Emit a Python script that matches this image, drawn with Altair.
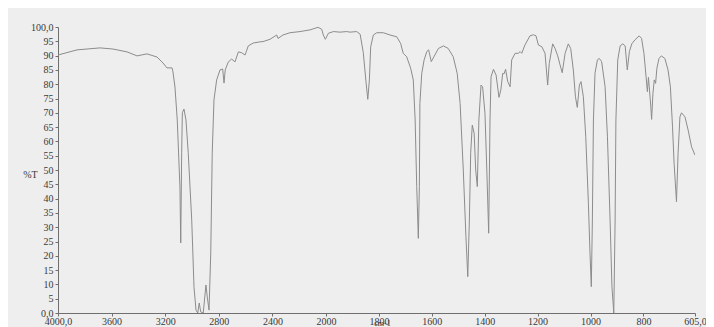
import altair as alt
import pandas as pd

wavenumber = [4000, 3858, 3687, 3590, 3485, 3410, 3336, 3261, 3216, 3187, 3149, 3142, 3127, 3110,
              3090, 3084, 3077, 3072, 3060, 3045, 3028, 3002, 2985, 2970, 2957, 2946, 2935, 2916,
              2896, 2886, 2873, 2860, 2849, 2836, 2816, 2791, 2771, 2761, 2752, 2729, 2704, 2679,
              2654, 2629, 2604, 2580, 2543, 2493, 2470, 2418, 2368, 2358, 2321, 2269, 2194, 2119,
              2060, 2032, 2020, 2005, 1991, 1972, 1947, 1922, 1909, 1884, 1871, 1859, 1849, 1842,
              1836, 1831, 1821, 1808, 1783, 1758, 1733, 1718, 1708, 1695, 1680, 1670, 1663, 1657,
              1651, 1647, 1645, 1638, 1629, 1619, 1612, 1602, 1592, 1575, 1556, 1538, 1519, 1504,
              1493, 1481, 1471, 1464, 1458, 1453, 1447, 1440, 1434, 1428, 1422, 1414, 1408, 1399,
              1392, 1385, 1380, 1376, 1367, 1357, 1346, 1339, 1332, 1327, 1321, 1313, 1304, 1298,
              1285, 1273, 1266, 1260, 1248, 1229, 1216, 1206, 1197, 1184, 1172, 1162, 1156, 1143,
              1134, 1124, 1115, 1107, 1096, 1084, 1075, 1065, 1057, 1050, 1042, 1036, 1027, 1018,
              1008, 1002, 997, 993, 989, 983, 974, 967, 958, 945, 936, 926, 919, 912, 907, 904,
              897, 888, 878, 869, 861, 853, 844, 832, 816, 807, 798, 790, 785, 781, 778, 772, 769,
              764, 759, 754, 749, 741, 732, 719, 707, 698, 690, 684, 675, 669, 662, 656, 643, 631,
              618, 605]

transmittance = [90.2, 92.0, 92.7, 92.3, 91.3, 89.9, 90.6, 89.5, 87.4, 85.7, 85.7, 84.3, 79.0, 67.5,
                 44.0, 24.5, 56.0, 70.0, 71.3, 67.5, 56.0, 32.5, 9.0, 1.0, 0.0, 3.5, 0.4, 0.0,
                 9.8, 5.6, 1.0, 21.0, 56.0, 74.5, 81.5, 85.0, 85.3, 80.4, 85.0, 87.8, 88.8, 87.8,
                 91.3, 91.0, 90.2, 93.4, 94.4, 94.8, 94.9, 95.7, 97.2, 96.0, 97.2, 98.0, 98.4, 99.0,
                 99.9, 99.2, 97.2, 95.7, 97.8, 98.4, 98.2, 98.4, 98.2, 98.4, 97.5, 91.0, 81.0, 74.7,
                 81.5, 93.1, 97.2, 98.0, 98.0, 97.2, 96.6, 94.3, 90.8, 89.6, 85.6, 81.5, 67.5, 44.2,
                 26.1, 44.2, 73.3, 83.8, 88.5, 91.4, 92.0, 87.9, 89.6, 92.5, 93.4, 92.5, 89.6, 83.8,
                 73.3, 50.0, 26.7, 12.7, 32.5, 56.0, 65.7, 62.9, 50.0, 44.2, 67.5, 79.7, 79.1, 69.8,
                 50.0, 27.9, 67.5, 82.6, 85.2, 83.2, 75.4, 78.0, 83.8, 83.6, 85.2, 80.9, 79.1, 88.5,
                 90.8, 90.8, 91.4, 90.8, 93.7, 96.9, 97.3, 96.9, 93.7, 93.1, 90.8, 79.7, 87.3, 94.1,
                 92.5, 89.9, 86.7, 84.0, 90.8, 94.1, 92.5, 85.0, 75.6, 71.9, 79.7, 80.9, 75.6, 61.6,
                 38.4, 21.0, 9.2, 32.5, 67.5, 83.8, 88.5, 89.0, 87.9, 79.2, 61.6, 32.5, 9.2, 0.0, 32.5, 67.5,
                 88.5, 93.4, 94.1, 93.4, 85.0, 91.4, 94.1, 95.5, 96.9, 96.0, 90.8, 82.6, 77.4, 82.4, 79.1, 72.1, 67.7,
                 76.8, 81.5, 80.3, 85.6, 89.0, 89.9, 89.0, 85.0, 79.1, 65.1, 52.3, 38.9, 55.8, 68.6, 70.0, 68.6, 64.0,
                 58.1, 55.2]

x_ticks = [4000, 3600, 3200, 2800, 2400, 2000, 1800, 1600, 1400, 1200, 1000, 800, 605]
y_ticks = list(range(0, 101, 5))

df = pd.DataFrame({"wn": wavenumber, "t": transmittance})

FONT = "Liberation Serif"
LABEL_COLOR = "#3a3a3a"
AXIS_COLOR = "#6f6f6f"

chart = alt.Chart(df).mark_line(color="#8c8c8c", strokeWidth=1, clip=True).encode(
    x=alt.X("wn:Q",
            scale=alt.Scale(domain=[4000, 2000, 605], range=[0, 268, 637], zero=False, nice=False),
            axis=alt.Axis(values=x_ticks, grid=False, title="cm-1", format="d",
                          labelExpr="datum.value == 4000 ? '4000,0' : (datum.value == 605 ? '605,0' : datum.label)",
                          labelFont=FONT, labelFontSize=10, labelColor=LABEL_COLOR,
                          titleFont=FONT, titleFontSize=8, titleFontWeight="normal", titleColor=LABEL_COLOR,
                          titleX=324, titleY=6, titleBaseline="top",
                          domainColor=AXIS_COLOR, tickColor=AXIS_COLOR, tickSize=3, labelPadding=0,
                          labelFlush=False, labelOverlap=False)),
    y=alt.Y("t:Q",
            scale=alt.Scale(domain=[0, 100], zero=False, nice=False),
            axis=alt.Axis(values=y_ticks, grid=False, title="%T",
                          labelExpr="datum.value == 0 ? '0,0' : (datum.value == 100 ? '100,0' : datum.label)",
                          labelFont=FONT, labelFontSize=10, labelColor=LABEL_COLOR,
                          titleFont=FONT, titleFontSize=10, titleFontWeight="normal", titleColor=LABEL_COLOR,
                          titleAngle=0, titleX=-28, titleY=147, titleAlign="center", titleBaseline="middle",
                          domainColor=AXIS_COLOR, tickColor=AXIS_COLOR, tickSize=3, labelPadding=2,
                          labelOverlap=False)),
).properties(
    width=637, height=286,
    autosize=alt.AutoSizeParams(type="none"),
    padding={"left": 50, "top": 19, "right": 11, "bottom": 22},
    background="#eeeeee",
).configure_view(stroke=None)

chart.save("out.html", embed_options={"renderer": "svg", "actions": False})
